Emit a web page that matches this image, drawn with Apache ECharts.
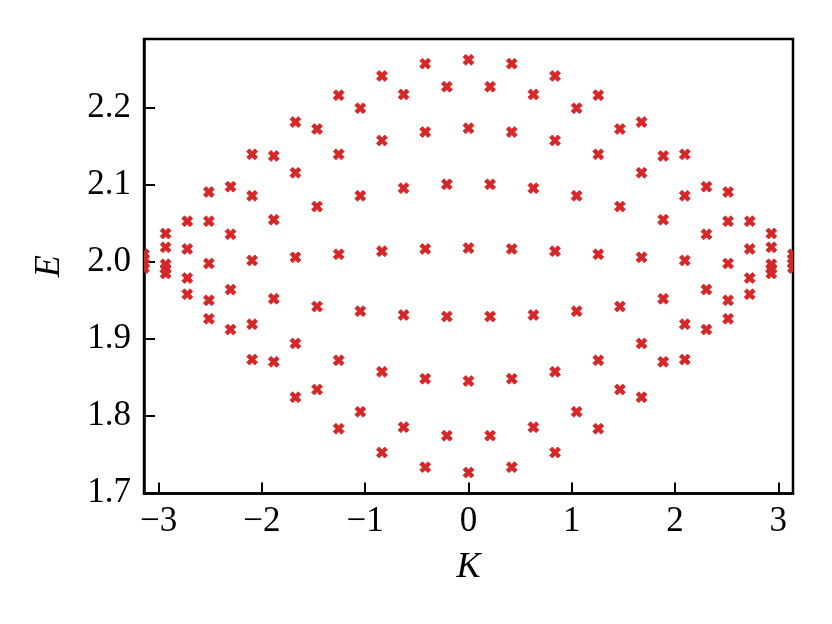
<!DOCTYPE html>
<html>
<head>
<meta charset="utf-8">
<script src="https://cdn.jsdelivr.net/npm/echarts@6.0.0/dist/echarts.min.js"></script>
<style>
  html, body { margin: 0; padding: 0; background: #fff; }
  #chart { width: 832px; height: 624px; }
</style>
</head>
<body>
<div id="chart"></div>
<script>
// momenta K = 2*pi*k/30, split into even and odd k
const kEven = [-2.9322, -2.5133, -2.0944, -1.6755, -1.2566, -0.8378, -0.4189, 0,
  0.4189, 0.8378, 1.2566, 1.6755, 2.0944, 2.5133, 2.9322];
const kOdd = [-3.1416, -2.7227, -2.3038, -1.8850, -1.4661, -1.0472, -0.6283, -0.2094,
  0.2094, 0.6283, 1.0472, 1.4661, 1.8850, 2.3038, 2.7227, 3.1416];

// energies at even k (5 levels)
const evenE1 = [2.037, 2.091, 2.140, 2.182, 2.217, 2.242, 2.258, 2.263, 2.258, 2.242, 2.217, 2.182, 2.140, 2.091, 2.037];
const evenE2 = [2.019, 2.053, 2.086, 2.116, 2.140, 2.158, 2.169, 2.174, 2.169, 2.158, 2.140, 2.116, 2.086, 2.053, 2.019];
const evenE3 = [1.997, 1.998, 2.002, 2.006, 2.010, 2.014, 2.017, 2.018, 2.017, 2.014, 2.010, 2.006, 2.002, 1.998, 1.997];
const evenE4 = [1.991, 1.950, 1.919, 1.894, 1.872, 1.857, 1.848, 1.845, 1.848, 1.857, 1.872, 1.894, 1.919, 1.950, 1.991];
const evenE5 = [1.985, 1.926, 1.873, 1.824, 1.783, 1.752, 1.733, 1.726, 1.733, 1.752, 1.783, 1.824, 1.873, 1.926, 1.985];

// energies at odd k (4 levels)
const oddE1 = [2.010, 2.053, 2.098, 2.138, 2.173, 2.200, 2.218, 2.228, 2.228, 2.218, 2.200, 2.173, 2.138, 2.098, 2.053, 2.010];
const oddE2 = [2.004, 2.017, 2.036, 2.055, 2.072, 2.086, 2.096, 2.101, 2.101, 2.096, 2.086, 2.072, 2.055, 2.036, 2.017, 2.004];
const oddE3 = [1.998, 1.979, 1.964, 1.952, 1.942, 1.936, 1.931, 1.929, 1.929, 1.931, 1.936, 1.942, 1.952, 1.964, 1.979, 1.998];
const oddE4 = [1.992, 1.958, 1.912, 1.870, 1.834, 1.805, 1.785, 1.774, 1.774, 1.785, 1.805, 1.834, 1.870, 1.912, 1.958, 1.992];

const xTicks = [-3, -2, -1, 0, 1, 2, 3];
const yTicks = [1.7, 1.8, 1.9, 2.0, 2.1, 2.2];

const points = [];
[evenE1, evenE2, evenE3, evenE4, evenE5].forEach(band => {
  band.forEach((e, i) => points.push([kEven[i], e]));
});
[oddE1, oddE2, oddE3, oddE4].forEach(band => {
  band.forEach((e, i) => points.push([kOdd[i], e]));
});

const FONT = 'Liberation Serif';
const RED = '#d62728';
// filled "X" marker, like matplotlib's 'X'
const X_PATH = 'M1,0L2,1L3,0L4,1L3,2L4,3L3,4L2,3L1,4L0,3L1,2L0,1Z';
const MARK = 11;

// custom series so the markers at K = +-pi get cut by the frame
const renderX = (params, api) => {
  const p = api.coord([api.value(0), api.value(1)]);
  return {
    type: 'path',
    shape: { pathData: X_PATH, x: p[0] - MARK / 2, y: p[1] - MARK / 2, width: MARK, height: MARK },
    style: { fill: RED, stroke: RED, lineWidth: 0.8 }
  };
};

const chart = echarts.init(document.getElementById('chart'));

chart.setOption({
  backgroundColor: '#fff',
  animation: false,
  grid: {
    left: 144, right: 39, top: 39, bottom: 130.5,
    show: true,
    borderColor: '#000',
    borderWidth: 2.5,
    backgroundColor: 'transparent'
  },
  xAxis: {
    type: 'value',
    min: -Math.PI,
    max: Math.PI,
    name: 'K',
    nameLocation: 'middle',
    nameGap: 56,
    nameTextStyle: { fontFamily: FONT, fontStyle: 'italic', fontSize: 36, color: '#000' },
    axisLine: { show: true, onZero: false, lineStyle: { color: '#000', width: 2.5 } },
    axisTick: {
      show: true, inside: true, length: 11,
      customValues: xTicks,
      lineStyle: { color: '#000', width: 2 }
    },
    axisLabel: {
      customValues: xTicks,
      margin: 11,
      fontFamily: FONT, fontSize: 35, color: '#000',
      formatter: v => (v < 0 ? '\u2212' + Math.abs(v) : String(v))
    },
    splitLine: { show: false }
  },
  yAxis: {
    type: 'value',
    min: 1.6987,
    max: 2.2901,
    name: 'E',
    nameLocation: 'middle',
    nameRotate: 90,
    nameGap: 76,
    nameTextStyle: { fontFamily: FONT, fontStyle: 'italic', fontSize: 36, color: '#000' },
    axisLine: { show: true, onZero: false, lineStyle: { color: '#000', width: 2.5 } },
    axisTick: {
      show: true, inside: true, length: 11,
      customValues: yTicks,
      lineStyle: { color: '#000', width: 2 }
    },
    axisLabel: {
      customValues: yTicks,
      margin: 13,
      fontFamily: FONT, fontSize: 35, color: '#000',
      formatter: v => v.toFixed(1)
    },
    splitLine: { show: false }
  },
  series: [{
    type: 'custom',
    data: points,
    encode: { x: 0, y: 1 },
    renderItem: renderX,
    clip: true
  }]
});
</script>
</body>
</html>
